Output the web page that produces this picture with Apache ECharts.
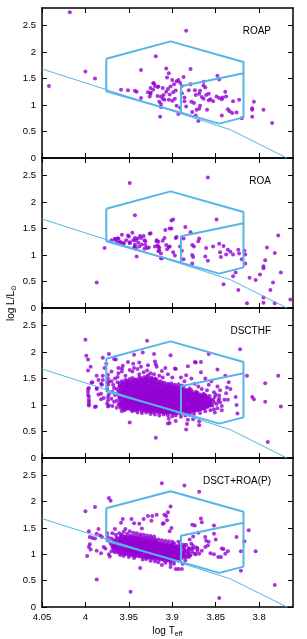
<!DOCTYPE html>
<html><head><meta charset="utf-8">
<script src="https://cdn.jsdelivr.net/npm/echarts@6/dist/echarts.min.js"></script>
<style>html,body{margin:0;padding:0;background:#fff}#c{width:307px;height:639px}</style>
</head><body><div id="c"></div>
<script>
// ---------- data ----------
const xTicks = [4.05, 4, 3.95, 3.9, 3.85, 3.8];
const yTicks = [0, 0.5, 1, 1.5, 2, 2.5];
const panelNames = ['ROAP', 'ROA', 'DSCTHF', 'DSCT+ROA(P)'];

// ZAMS line
const zamsT = [4.05, 3.976, 3.833, 3.768];
const zamsL = [1.68, 1.29, 0.534, 0.0];
// instability strip outline
const stripT = [3.976, 3.902, 3.818, 3.818, 3.846, 3.976, 3.976];
const stripL = [1.874, 2.20, 1.81, 0.767, 0.648, 1.258, 1.874];
// inner boundary
const innerT = [3.890, 3.890, 3.818];
const innerL = [0.855, 1.355, 1.60];

const roapData = [[4.018,2.75],[4.042,1.36],[4.000,1.63],[3.989,1.50],[3.884,2.40],[3.919,1.92],[3.936,1.66],[3.959,1.29],[3.951,1.28],[3.943,1.27],[3.941,1.25],[3.936,1.13],[3.914,0.78],[3.907,1.69],[3.904,1.60],[3.906,1.52],[3.900,1.47],[3.895,1.45],[3.893,1.47],[3.891,1.42],[3.898,1.39],[3.896,1.275],[3.899,1.24],[3.889,1.36],[3.887,1.53],[3.879,1.68],[3.889,1.22],[3.886,1.14],[3.886,1.07],[3.895,0.985],[3.891,0.95],[3.893,0.83],[3.922,1.41],[3.920,1.36],[3.917,1.34],[3.925,1.32],[3.922,1.29],[3.928,1.24],[3.925,1.21],[3.926,1.16],[3.917,1.17],[3.913,1.16],[3.911,1.12],[3.909,1.10],[3.910,1.19],[3.911,1.32],[3.915,1.06],[3.913,1.02],[3.913,0.96],[3.904,1.10],[3.900,1.08],[3.881,1.28],[3.879,1.39],[3.874,1.28],[3.873,1.19],[3.869,1.21],[3.868,1.27],[3.864,1.37],[3.864,1.44],[3.862,1.33],[3.866,1.15],[3.864,1.12],[3.861,1.19],[3.858,1.21],[3.858,1.09],[3.856,1.11],[3.860,0.91],[3.868,0.985],[3.869,0.93],[3.875,1.04],[3.877,0.87],[3.873,0.80],[3.870,0.70],[3.872,0.91],[3.884,0.97],[3.878,1.06],[3.853,1.07],[3.848,1.55],[3.846,1.48],[3.849,1.16],[3.846,1.13],[3.843,1.11],[3.842,1.14],[3.839,1.25],[3.838,1.16],[3.836,0.92],[3.834,0.88],[3.831,0.85],[3.830,1.07],[3.826,0.86],[3.823,1.10],[3.820,0.75],[3.843,0.80],[3.808,0.91],[3.808,0.94],[3.806,1.06],[3.808,0.78],[3.795,0.91],[3.785,0.66],[3.921,1.41],[3.916,1.35],[3.925,1.23],[3.907,1.25],[3.905,1.30],[3.902,1.35],[3.903,1.20],[3.897,1.12]];

const roaData = [[3.949,2.36],[3.859,2.46],[3.987,0.48],[3.978,1.13],[3.943,1.75],[3.970,1.28],[3.966,1.30],[3.964,1.25],[3.963,1.31],[3.958,1.38],[3.960,1.25],[3.956,1.22],[3.953,1.28],[3.950,1.35],[3.949,1.22],[3.946,1.42],[3.945,1.28],[3.943,1.20],[3.944,1.14],[3.942,1.28],[3.940,1.31],[3.939,1.23],[3.937,1.36],[3.938,1.16],[3.941,0.97],[3.935,1.20],[3.933,1.36],[3.932,1.28],[3.929,1.13],[3.932,1.12],[3.925,1.41],[3.918,1.28],[3.916,1.25],[3.920,1.16],[3.916,1.15],[3.915,1.09],[3.913,1.03],[3.912,0.94],[3.911,1.27],[3.908,1.47],[3.906,1.11],[3.903,1.16],[3.901,1.65],[3.899,1.67],[3.901,1.50],[3.899,1.05],[3.897,0.99],[3.896,1.32],[3.895,1.34],[3.891,1.16],[3.889,1.08],[3.887,1.31],[3.887,0.92],[3.885,1.53],[3.879,1.43],[3.877,1.19],[3.875,1.16],[3.877,1.00],[3.876,0.96],[3.877,0.84],[3.870,1.26],[3.869,1.31],[3.862,0.97],[3.859,0.89],[3.861,1.13],[3.849,1.67],[3.853,1.16],[3.846,1.21],[3.845,1.05],[3.844,0.96],[3.841,1.17],[3.838,1.01],[3.836,1.10],[3.833,1.06],[3.830,1.01],[3.824,1.10],[3.823,1.03],[3.817,1.08],[3.816,1.01],[3.820,0.92],[3.816,0.84],[3.841,0.45],[3.830,0.60],[3.827,0.67],[3.824,0.34],[3.814,0.09],[3.811,0.57],[3.804,0.53],[3.799,0.63],[3.795,0.75],[3.795,0.79],[3.793,0.90],[3.795,0.20],[3.795,0.10],[3.791,1.14],[3.787,0.34],[3.784,0.48],[3.782,1.04],[3.778,1.37],[3.775,0.67],[3.782,0.09],[3.764,0.16],[3.966,1.30],[3.962,1.31],[3.962,1.23],[3.959,1.22],[3.956,1.22],[3.951,1.37],[3.949,1.24],[3.943,1.32],[3.943,1.16],[3.942,1.12],[3.936,1.32],[3.931,1.19],[3.931,1.26],[3.926,1.40],[3.927,1.14],[3.918,1.26],[3.917,1.18],[3.915,1.14],[3.916,1.07],[3.913,0.94],[3.909,1.32],[3.904,1.15],[3.903,1.50],[3.907,1.19]];

const dscthfSparse = [[4.000,2.23],[3.999,1.93],[3.997,1.86],[3.994,1.72],[3.997,1.65],[3.993,1.42],[3.997,1.30],[3.997,1.25],[3.997,1.19],[3.996,1.16],[3.996,1.06],[3.996,1.02],[3.989,0.96],[3.987,1.30],[3.985,1.20],[3.981,1.38],[3.980,1.89],[3.980,1.55],[3.982,1.11],[3.975,1.42],[3.975,1.30],[3.974,1.15],[3.975,1.03],[3.974,0.97],[3.973,1.96],[3.967,1.87],[3.965,1.86],[3.963,1.53],[3.958,1.69],[3.951,1.81],[3.944,1.95],[3.934,1.99],[3.929,2.21],[3.921,1.96],[3.919,1.77],[3.918,1.72],[3.949,0.67],[3.919,0.38],[3.905,0.65],[3.902,1.94],[3.897,1.69],[3.884,0.54],[3.883,0.64],[3.874,1.81],[3.867,1.81],[3.858,1.96],[3.869,0.69],[3.869,0.62],[3.848,1.67],[3.822,2.05],[3.814,1.55],[3.808,1.15],[3.806,1.11],[3.793,1.41],[3.793,1.06],[3.778,1.55],[3.775,0.97],[3.790,0.30],[3.833,1.30],[3.835,1.43],[3.837,1.33],[3.827,1.15],[3.826,1.00],[3.825,0.84],[3.836,1.10],[3.839,1.55],
[3.974,1.57],[3.974,1.50],[3.973,1.44],[3.974,1.38],[3.973,1.20],[3.974,1.09],[3.973,0.99],[3.970,1.45],[3.966,1.50],[3.962,1.60],[3.958,1.63],[3.954,1.55],[3.962,1.70],[3.957,1.74],[3.970,1.63],[3.978,1.70],[3.976,1.78],[3.985,1.47],[3.980,1.47],[3.982,1.40],[3.987,1.32],[3.992,1.43],[3.987,1.55],[3.982,1.21],[3.979,1.13],[3.988,0.97],[3.996,1.32],[3.996,1.10],[3.996,0.99],
[3.949,1.66],[3.946,1.63],[3.944,1.70],[3.940,1.68],[3.936,1.72],[3.938,1.58],[3.933,1.62],[3.929,1.65],[3.925,1.60],[3.921,1.58],[3.915,1.55],[3.911,1.52],[3.928,1.75],[3.938,1.80],[3.945,1.78],[3.920,1.82],[3.912,1.64],[3.905,1.58],[3.900,1.52],[3.908,1.70],[3.896,1.68],[3.890,1.52],[3.886,1.45],[3.884,1.56],[3.882,1.73],[3.878,1.50],[3.874,1.40],[3.873,1.80],[3.870,1.35],[3.866,1.30],[3.860,1.28],[3.858,1.38],[3.852,1.24],[3.862,1.50],[3.867,1.62],[3.855,1.45],
[3.946,0.88],[3.940,0.86],[3.935,0.85],[3.930,0.86],[3.925,0.83],[3.920,0.82],[3.915,0.80],[3.910,0.82],[3.905,0.80],[3.900,0.79],[3.896,0.80],[3.904,0.74],[3.903,0.66],[3.890,0.78],[3.885,0.80],[3.880,0.82],[3.875,0.83],[3.868,0.85],[3.862,0.88],[3.882,0.72],[3.876,0.73],[3.896,0.70],[3.955,0.90],[3.958,0.88],
[3.850,1.20],[3.846,1.18],[3.845,1.05],[3.843,0.98],[3.848,0.94],[3.852,0.92],[3.840,1.10],[3.838,1.22],[3.845,1.28],[3.848,1.35],[3.856,0.90],[3.843,0.90],[3.851,0.86]];

const dscthfCore = [[3.969,0.98],[3.967,1.06],[3.970,1.12],[3.966,1.19],[3.969,1.25],[3.967,1.32],[3.968,1.38],
[3.964,0.95],[3.962,1.01],[3.964,1.08],[3.961,1.14],[3.963,1.20],[3.962,1.26],[3.964,1.30],[3.961,1.36],[3.963,1.43],
[3.959,0.94],[3.957,0.99],[3.958,1.04],[3.956,1.09],[3.959,1.14],[3.957,1.19],[3.958,1.23],[3.956,1.28],[3.959,1.33],[3.957,1.38],[3.958,1.45],
[3.955,0.92],[3.953,0.97],[3.954,1.02],[3.952,1.06],[3.955,1.10],[3.953,1.15],[3.954,1.19],[3.952,1.23],[3.955,1.27],[3.953,1.32],[3.954,1.36],[3.952,1.41],[3.954,1.47],
[3.951,0.93],[3.949,0.98],[3.950,1.01],[3.948,1.05],[3.951,1.09],[3.949,1.13],[3.950,1.17],[3.948,1.21],[3.951,1.25],[3.949,1.29],[3.950,1.33],[3.948,1.38],[3.951,1.43],[3.949,1.49],
[3.947,0.91],[3.945,0.95],[3.946,0.99],[3.944,1.03],[3.947,1.07],[3.945,1.11],[3.946,1.15],[3.944,1.19],[3.947,1.23],[3.945,1.27],[3.946,1.31],[3.944,1.35],[3.947,1.40],[3.945,1.45],[3.946,1.51],
[3.943,0.90],[3.941,0.94],[3.942,0.98],[3.940,1.02],[3.943,1.06],[3.941,1.10],[3.942,1.14],[3.940,1.18],[3.943,1.22],[3.941,1.26],[3.942,1.30],[3.940,1.34],[3.943,1.38],[3.941,1.43],[3.942,1.48],
[3.939,0.92],[3.937,0.96],[3.938,1.00],[3.936,1.04],[3.939,1.08],[3.937,1.12],[3.938,1.16],[3.936,1.20],[3.939,1.24],[3.937,1.28],[3.938,1.32],[3.936,1.36],[3.939,1.41],[3.937,1.46],[3.938,1.52],
[3.935,0.89],[3.933,0.93],[3.934,0.97],[3.932,1.01],[3.935,1.05],[3.933,1.09],[3.934,1.13],[3.932,1.17],[3.935,1.21],[3.933,1.25],[3.934,1.29],[3.932,1.33],[3.935,1.37],[3.933,1.42],[3.934,1.47],[3.932,1.53],
[3.931,0.90],[3.929,0.94],[3.930,0.98],[3.928,1.02],[3.931,1.06],[3.929,1.10],[3.930,1.14],[3.928,1.18],[3.931,1.22],[3.929,1.26],[3.930,1.30],[3.928,1.34],[3.931,1.39],[3.929,1.44],[3.930,1.50],[3.928,1.56],
[3.927,0.88],[3.925,0.92],[3.926,0.96],[3.924,1.00],[3.927,1.04],[3.925,1.08],[3.926,1.12],[3.924,1.16],[3.927,1.20],[3.925,1.24],[3.926,1.28],[3.924,1.32],[3.927,1.36],[3.925,1.41],[3.926,1.46],[3.924,1.52],
[3.923,0.87],[3.921,0.91],[3.922,0.95],[3.920,0.99],[3.923,1.03],[3.921,1.07],[3.922,1.11],[3.920,1.15],[3.923,1.19],[3.921,1.23],[3.922,1.27],[3.920,1.31],[3.923,1.35],[3.921,1.40],[3.922,1.45],[3.920,1.50],
[3.919,0.88],[3.917,0.92],[3.918,0.96],[3.916,1.00],[3.919,1.04],[3.917,1.08],[3.918,1.12],[3.916,1.16],[3.919,1.20],[3.917,1.24],[3.918,1.28],[3.916,1.32],[3.919,1.37],[3.917,1.42],[3.918,1.48],
[3.915,0.86],[3.913,0.90],[3.914,0.94],[3.912,0.98],[3.915,1.02],[3.913,1.06],[3.914,1.10],[3.912,1.14],[3.915,1.18],[3.913,1.22],[3.914,1.26],[3.912,1.30],[3.915,1.34],[3.913,1.39],[3.914,1.45],
[3.911,0.87],[3.909,0.91],[3.910,0.95],[3.908,0.99],[3.911,1.03],[3.909,1.07],[3.910,1.11],[3.908,1.15],[3.911,1.19],[3.909,1.23],[3.910,1.27],[3.908,1.31],[3.911,1.36],[3.909,1.42],
[3.907,0.85],[3.905,0.89],[3.906,0.93],[3.904,0.97],[3.907,1.01],[3.905,1.05],[3.906,1.09],[3.904,1.13],[3.907,1.17],[3.905,1.21],[3.906,1.25],[3.904,1.29],[3.907,1.34],[3.905,1.40],
[3.903,0.86],[3.901,0.90],[3.902,0.94],[3.900,0.98],[3.903,1.02],[3.901,1.06],[3.902,1.10],[3.900,1.14],[3.903,1.18],[3.901,1.22],[3.902,1.26],[3.900,1.30],[3.903,1.35],[3.901,1.41],
[3.899,0.84],[3.897,0.88],[3.898,0.92],[3.896,0.96],[3.899,1.00],[3.897,1.04],[3.898,1.08],[3.896,1.12],[3.899,1.16],[3.897,1.20],[3.898,1.24],[3.896,1.28],[3.899,1.33],[3.897,1.38],
[3.895,0.85],[3.893,0.89],[3.894,0.93],[3.892,0.97],[3.895,1.01],[3.893,1.05],[3.894,1.09],[3.892,1.13],[3.895,1.17],[3.893,1.21],[3.894,1.25],[3.892,1.29],[3.895,1.34],[3.893,1.39],
[3.891,0.84],[3.889,0.88],[3.890,0.92],[3.888,0.96],[3.891,1.00],[3.889,1.04],[3.890,1.08],[3.888,1.12],[3.891,1.16],[3.889,1.20],[3.890,1.24],[3.888,1.28],[3.891,1.32],[3.889,1.37],
[3.887,0.85],[3.885,0.89],[3.886,0.93],[3.884,0.97],[3.887,1.01],[3.885,1.05],[3.886,1.09],[3.884,1.13],[3.887,1.17],[3.885,1.21],[3.886,1.25],[3.884,1.29],[3.887,1.34],
[3.883,0.86],[3.881,0.90],[3.882,0.94],[3.880,0.98],[3.883,1.02],[3.881,1.06],[3.882,1.10],[3.880,1.14],[3.883,1.18],[3.881,1.22],[3.882,1.26],[3.880,1.31],
[3.879,0.87],[3.877,0.91],[3.878,0.95],[3.876,0.99],[3.879,1.03],[3.877,1.07],[3.878,1.11],[3.876,1.15],[3.879,1.19],[3.877,1.23],[3.878,1.28],
[3.875,0.88],[3.873,0.92],[3.874,0.96],[3.872,1.00],[3.875,1.04],[3.873,1.08],[3.874,1.12],[3.872,1.16],[3.875,1.20],[3.873,1.25],
[3.871,0.90],[3.869,0.94],[3.870,0.98],[3.868,1.02],[3.871,1.06],[3.869,1.10],[3.870,1.14],[3.868,1.18],[3.871,1.23],
[3.867,0.92],[3.865,0.96],[3.866,1.00],[3.864,1.04],[3.867,1.08],[3.865,1.12],[3.866,1.16],[3.864,1.21],
[3.863,0.94],[3.861,0.98],[3.862,1.02],[3.860,1.06],[3.863,1.10],[3.861,1.14],[3.862,1.19],
[3.859,0.97],[3.857,1.01],[3.858,1.05],[3.856,1.09],[3.859,1.13],[3.857,1.17],
[3.854,0.99],[3.852,1.05],[3.853,1.10],[3.851,1.15],[3.849,1.02],[3.847,1.08],[3.846,1.12]];

// extra stars between the columns above: [log Teff, [log L values]]
const dscthfFill = [
[3.960,[0.97,1.01,1.05,1.09,1.13,1.17,1.21,1.25,1.29,1.33,1.37,1.41]],
[3.956,[0.95,0.99,1.03,1.07,1.11,1.15,1.19,1.23,1.27,1.31,1.35,1.39,1.43]],
[3.952,[0.94,0.98,1.02,1.06,1.10,1.14,1.18,1.22,1.26,1.30,1.34,1.38,1.42,1.46]],
[3.948,[0.93,0.97,1.01,1.05,1.09,1.13,1.17,1.21,1.25,1.29,1.33,1.37,1.41,1.45]],
[3.944,[0.92,0.96,1.00,1.04,1.08,1.12,1.16,1.20,1.24,1.28,1.32,1.36,1.40,1.44,1.48]],
[3.940,[0.91,0.95,0.99,1.03,1.07,1.11,1.15,1.19,1.23,1.27,1.31,1.35,1.39,1.43,1.47]],
[3.936,[0.91,0.95,0.99,1.03,1.07,1.11,1.15,1.19,1.23,1.27,1.31,1.35,1.39,1.43,1.47,1.51]],
[3.932,[0.90,0.94,0.98,1.02,1.06,1.10,1.14,1.18,1.22,1.26,1.30,1.34,1.38,1.42,1.46,1.50]],
[3.928,[0.89,0.93,0.97,1.01,1.05,1.09,1.13,1.17,1.21,1.25,1.29,1.33,1.37,1.41,1.45,1.49,1.53]],
[3.924,[0.89,0.93,0.97,1.01,1.05,1.09,1.13,1.17,1.21,1.25,1.29,1.33,1.37,1.41,1.45,1.49]],
[3.920,[0.88,0.92,0.96,1.00,1.04,1.08,1.12,1.16,1.20,1.24,1.28,1.32,1.36,1.40,1.44,1.48]],
[3.916,[0.87,0.91,0.95,0.99,1.03,1.07,1.11,1.15,1.19,1.23,1.27,1.31,1.35,1.39,1.43]],
[3.912,[0.87,0.91,0.95,0.99,1.03,1.07,1.11,1.15,1.19,1.23,1.27,1.31,1.35,1.39,1.43]],
[3.908,[0.86,0.90,0.94,0.98,1.02,1.06,1.10,1.14,1.18,1.22,1.26,1.30,1.34,1.38]],
[3.904,[0.86,0.90,0.94,0.98,1.02,1.06,1.10,1.14,1.18,1.22,1.26,1.30,1.34,1.38]],
[3.900,[0.85,0.89,0.93,0.97,1.01,1.05,1.09,1.13,1.17,1.21,1.25,1.29,1.33,1.37]],
[3.896,[0.85,0.89,0.93,0.97,1.01,1.05,1.09,1.13,1.17,1.21,1.25,1.29,1.33]],
[3.892,[0.86,0.90,0.94,0.98,1.02,1.06,1.10,1.14,1.18,1.22,1.26,1.30,1.34]],
[3.888,[0.86,0.90,0.94,0.98,1.02,1.06,1.10,1.14,1.18,1.22,1.26,1.30]],
[3.884,[0.87,0.91,0.95,0.99,1.03,1.07,1.11,1.15,1.19,1.23,1.27]],
[3.880,[0.88,0.92,0.96,1.00,1.04,1.08,1.12,1.16,1.20,1.24,1.28]],
[3.876,[0.89,0.93,0.97,1.01,1.05,1.09,1.13,1.17,1.21]],
[3.872,[0.90,0.94,0.98,1.02,1.06,1.10,1.14,1.18,1.22]],
[3.868,[0.92,0.96,1.00,1.04,1.08,1.12,1.16,1.20]],
[3.864,[0.94,0.98,1.02,1.06,1.10,1.14,1.18]],
[3.860,[0.96,1.00,1.04,1.08,1.12,1.16]],
[3.856,[0.99,1.03,1.07,1.11]]];

const dsctRoaPSparse = [[4.000,1.82],[3.989,1.90],[3.973,2.07],[3.971,2.02],[3.912,2.35],[3.886,2.31],[3.869,2.19],[3.902,1.91],[3.905,1.80],[3.907,1.73],[3.911,1.58],[3.957,1.67],[3.947,1.67],[3.959,1.60],[3.954,1.48],[3.944,1.59],[3.938,1.58],[3.933,1.67],[3.928,1.73],[3.923,1.73],[3.918,1.75],[3.909,1.75],[3.906,1.65],[3.910,1.59],[3.924,1.64],[3.935,1.49],[3.966,1.48],[3.969,1.40],[3.961,1.40],[3.903,1.44],[3.901,1.50],[3.867,1.68],[3.866,1.61],[3.874,1.55],[3.852,1.55],[3.852,1.39],[3.877,1.56],
[3.996,1.44],[3.995,1.33],[3.992,1.31],[3.989,1.30],[3.985,1.48],[3.987,1.39],[3.983,1.36],[3.981,1.33],[3.995,1.19],[3.996,1.14],[3.994,1.09],[3.998,0.97],[3.987,1.07],[3.979,1.14],[3.977,1.11],[3.982,1.02],[3.973,1.00],[3.972,0.96],[3.971,1.20],[3.969,1.14],[3.966,1.17],[3.974,1.26],[3.974,1.33],[3.975,1.40],
[3.862,1.33],[3.861,1.26],[3.862,1.14],[3.859,1.17],[3.856,1.02],[3.852,1.00],[3.847,0.95],[3.843,1.11],[3.841,1.10],[3.844,0.95],[3.839,1.01],[3.871,1.11],[3.869,1.01],[3.866,1.07],[3.878,1.20],[3.876,1.11],[3.874,1.01],[3.881,0.95],[3.885,0.89],[3.888,0.82],[3.896,0.72],[3.893,0.72],[3.889,0.72],[3.902,0.76],[3.902,0.82],
[3.826,1.33],[3.821,1.06],[3.821,0.69],[3.812,1.46],[3.817,1.25],[3.804,1.06],[3.782,0.42],[3.846,0.17],[3.987,0.52],[3.948,0.29],[3.937,0.74],[3.876,1.34],[3.870,1.41],[3.880,1.28],[3.858,1.24],[3.850,1.28],[3.836,1.06],
[3.944,0.93],[3.934,0.90],[3.925,0.88],[3.916,0.85],[3.908,0.84],[3.898,0.82],[3.912,0.80],[3.920,0.87],[3.930,0.91],[3.950,0.95],[3.956,0.97],[3.960,0.99]];

const dsctRoaPCore = [[3.970,1.06],[3.968,1.12],[3.969,1.18],[3.967,1.24],[3.970,1.30],
[3.966,1.04],[3.964,1.10],[3.965,1.15],[3.963,1.21],[3.966,1.26],[3.964,1.32],[3.965,1.37],
[3.962,1.03],[3.960,1.08],[3.961,1.12],[3.959,1.17],[3.962,1.21],[3.960,1.26],[3.961,1.30],[3.959,1.35],
[3.958,1.01],[3.956,1.06],[3.957,1.10],[3.955,1.14],[3.958,1.18],[3.956,1.22],[3.957,1.27],[3.955,1.31],[3.958,1.37],[3.956,1.43],
[3.954,1.00],[3.952,1.04],[3.953,1.08],[3.951,1.12],[3.954,1.16],[3.952,1.20],[3.953,1.24],[3.951,1.28],[3.954,1.33],[3.952,1.39],
[3.950,0.99],[3.948,1.03],[3.949,1.07],[3.947,1.11],[3.950,1.15],[3.948,1.19],[3.949,1.23],[3.947,1.27],[3.950,1.31],[3.948,1.36],[3.949,1.44],
[3.946,0.98],[3.944,1.02],[3.945,1.06],[3.943,1.10],[3.946,1.14],[3.944,1.18],[3.945,1.22],[3.943,1.26],[3.946,1.30],[3.944,1.35],[3.945,1.41],
[3.942,0.97],[3.940,1.01],[3.941,1.05],[3.939,1.09],[3.942,1.13],[3.940,1.17],[3.941,1.21],[3.939,1.25],[3.942,1.29],[3.940,1.34],[3.941,1.40],
[3.938,0.96],[3.936,1.00],[3.937,1.04],[3.935,1.08],[3.938,1.12],[3.936,1.16],[3.937,1.20],[3.935,1.24],[3.938,1.28],[3.936,1.33],[3.937,1.38],
[3.934,0.95],[3.932,0.99],[3.933,1.03],[3.931,1.07],[3.934,1.11],[3.932,1.15],[3.933,1.19],[3.931,1.23],[3.934,1.27],[3.932,1.32],[3.933,1.37],
[3.930,0.94],[3.928,0.98],[3.929,1.02],[3.927,1.06],[3.930,1.10],[3.928,1.14],[3.929,1.18],[3.927,1.22],[3.930,1.26],[3.928,1.31],[3.929,1.36],
[3.926,0.93],[3.924,0.97],[3.925,1.01],[3.923,1.05],[3.926,1.09],[3.924,1.13],[3.925,1.17],[3.923,1.21],[3.926,1.25],[3.924,1.30],[3.925,1.35],
[3.922,0.92],[3.920,0.96],[3.921,1.00],[3.919,1.04],[3.922,1.08],[3.920,1.12],[3.921,1.16],[3.919,1.20],[3.922,1.24],[3.920,1.29],[3.921,1.34],
[3.918,0.91],[3.916,0.95],[3.917,0.99],[3.915,1.03],[3.918,1.07],[3.916,1.11],[3.917,1.15],[3.915,1.19],[3.918,1.23],[3.916,1.28],
[3.914,0.90],[3.912,0.94],[3.913,0.98],[3.911,1.02],[3.914,1.06],[3.912,1.10],[3.913,1.14],[3.911,1.18],[3.914,1.22],[3.912,1.27],
[3.910,0.89],[3.908,0.93],[3.909,0.97],[3.907,1.01],[3.910,1.05],[3.908,1.09],[3.909,1.13],[3.907,1.17],[3.910,1.21],[3.908,1.26],
[3.906,0.88],[3.904,0.92],[3.905,0.96],[3.903,1.00],[3.906,1.04],[3.904,1.08],[3.905,1.12],[3.903,1.16],[3.906,1.20],[3.904,1.25],
[3.902,0.87],[3.900,0.91],[3.901,0.95],[3.899,0.99],[3.902,1.03],[3.900,1.07],[3.901,1.11],[3.899,1.15],[3.902,1.19],[3.900,1.24],
[3.898,0.88],[3.896,0.92],[3.897,0.96],[3.895,1.00],[3.898,1.04],[3.896,1.08],[3.897,1.12],[3.895,1.16],[3.898,1.21],
[3.894,0.89],[3.892,0.93],[3.893,0.97],[3.891,1.01],[3.894,1.05],[3.892,1.09],[3.893,1.13],[3.891,1.18],[3.893,1.24],
[3.889,0.93],[3.887,0.98],[3.888,1.03],[3.886,1.08],[3.889,1.13],[3.887,1.18],
[3.884,0.95],[3.882,1.01],[3.883,1.06],[3.881,1.12],[3.884,1.18],
[3.879,0.98],[3.877,1.04],[3.878,1.10],[3.876,1.16],
[3.873,1.00],[3.871,1.07],[3.872,1.13]];

const dsctRoaPFill = [
[3.967,[1.08,1.14,1.20,1.27]],
[3.963,[1.06,1.10,1.14,1.18,1.23,1.28]],
[3.959,[1.04,1.08,1.12,1.16,1.20,1.24,1.28,1.33]],
[3.955,[1.02,1.06,1.10,1.14,1.18,1.22,1.26,1.30,1.34]],
[3.951,[1.01,1.05,1.09,1.13,1.17,1.21,1.25,1.29,1.34]],
[3.947,[1.00,1.04,1.08,1.12,1.16,1.20,1.24,1.28,1.33]],
[3.943,[0.99,1.03,1.07,1.11,1.15,1.19,1.23,1.27,1.32]],
[3.939,[0.98,1.02,1.06,1.10,1.14,1.18,1.22,1.26,1.31]],
[3.935,[0.97,1.01,1.05,1.09,1.13,1.17,1.21,1.25,1.30]],
[3.931,[0.96,1.00,1.04,1.08,1.12,1.16,1.20,1.24,1.29]],
[3.927,[0.95,0.99,1.03,1.07,1.11,1.15,1.19,1.23,1.28]],
[3.923,[0.94,0.98,1.02,1.06,1.10,1.14,1.18,1.22,1.27]],
[3.919,[0.93,0.97,1.01,1.05,1.09,1.13,1.17,1.21,1.26]],
[3.915,[0.92,0.96,1.00,1.04,1.08,1.12,1.16,1.20]],
[3.911,[0.91,0.95,0.99,1.03,1.07,1.11,1.15,1.19]],
[3.907,[0.90,0.94,0.98,1.02,1.06,1.10,1.14,1.18]],
[3.903,[0.89,0.93,0.97,1.01,1.05,1.09,1.13,1.17]],
[3.899,[0.89,0.93,0.97,1.01,1.05,1.09,1.13,1.18]],
[3.895,[0.90,0.94,0.98,1.02,1.06,1.10,1.14]],
[3.891,[0.91,0.96,1.01,1.06,1.11,1.16]],
[3.886,[0.95,1.00,1.05,1.10,1.15]],
[3.881,[0.98,1.04,1.09]]];

// ---------- chart ----------
const FONT = 'Liberation Sans, Arial, sans-serif';
const BLUE = '#56B4E9';
const PURPLE = '#9400D3';
const tops = [8, 158, 308, 458];
const H = 150;
const pairs = (a, b) => a.map((v, i) => [v, b[i]]);
const expand = cols => cols.reduce((acc, c) => acc.concat(c[1].map(l => [c[0], l])), []);
const panelData = [
  roapData,
  roaData,
  dscthfSparse.concat(dscthfCore, expand(dscthfFill)),
  dsctRoaPSparse.concat(dsctRoaPCore, expand(dsctRoaPFill))
];

const grids = [], xAxes = [], yAxes = [], series = [], graphics = [];
for (let i = 0; i < 4; i++) {
  grids.push({ left: 42, width: 251, top: tops[i], height: H, show: false });
  const baseX = {
    type: 'value', gridIndex: i, min: 3.761, max: 4.05, inverse: true,
    axisLine: { show: true, onZero: false, lineStyle: { color: '#000', width: 1.5 } },
    axisTick: { show: true, inside: true, length: 5, customValues: xTicks, lineStyle: { color: '#000', width: 1 } },
    splitLine: { show: false }
  };
  xAxes.push(Object.assign({}, baseX, {
    position: 'bottom',
    axisLabel: { show: i === 3, customValues: xTicks, color: '#000', fontSize: 9.5, fontFamily: FONT, margin: 5 },
    name: i === 3 ? '{a|log T}{b|eff}' : '', nameLocation: 'middle', nameGap: 18,
    nameTextStyle: { color: '#000', fontFamily: FONT, rich: {
      a: { fontSize: 10, fontFamily: FONT, color: '#000' },
      b: { fontSize: 7, fontFamily: FONT, color: '#000', padding: [6, 0, 0, 0] } } }
  }));
  xAxes.push(Object.assign({}, baseX, { position: 'top', axisLabel: { show: false } }));
  const baseY = {
    type: 'value', gridIndex: i, min: 0, max: 2.83,
    axisLine: { show: true, onZero: false, lineStyle: { color: '#000', width: 1.5 } },
    axisTick: { show: true, inside: true, length: 5, customValues: yTicks, lineStyle: { color: '#000', width: 1 } },
    splitLine: { show: false }
  };
  yAxes.push(Object.assign({}, baseY, {
    position: 'left',
    axisLabel: { show: true, customValues: yTicks, color: '#000', fontSize: 9.5, fontFamily: FONT, margin: 6 }
  }));
  yAxes.push(Object.assign({}, baseY, { position: 'right', axisLabel: { show: false } }));

  series.push({ type: 'scatter', xAxisIndex: 2 * i, yAxisIndex: 2 * i, data: panelData[i],
    symbol: 'circle', symbolSize: 4, itemStyle: { color: PURPLE }, z: 2, silent: true, large: false });
  series.push({ type: 'line', xAxisIndex: 2 * i, yAxisIndex: 2 * i, data: pairs(zamsT, zamsL),
    showSymbol: false, lineStyle: { color: BLUE, width: 1 }, z: 3, silent: true });
  series.push({ type: 'line', xAxisIndex: 2 * i, yAxisIndex: 2 * i, data: pairs(stripT, stripL),
    showSymbol: false, lineStyle: { color: BLUE, width: 2 }, z: 4, silent: true });
  series.push({ type: 'line', xAxisIndex: 2 * i, yAxisIndex: 2 * i, data: pairs(innerT, innerL),
    showSymbol: false, lineStyle: { color: BLUE, width: 2 }, z: 4, silent: true });

  graphics.push({ type: 'text', x: 271, y: tops[i] + 23, z: 10,
    style: { text: panelNames[i], fill: '#000', font: '10px ' + FONT, align: 'right', verticalAlign: 'middle' } });
}
graphics.push({ type: 'text', x: 11, y: 303, rotation: Math.PI / 2, z: 10,
  style: { text: '{a|log L/L}{b|\u2299}', align: 'center', verticalAlign: 'middle', fill: '#000',
    rich: { a: { fontSize: 10, fontFamily: FONT, fill: '#000' }, b: { fontSize: 7, fontFamily: FONT, fill: '#000', padding: [6, 0, 0, 0] } } } });

const chart = echarts.init(document.getElementById('c'), null, { renderer: 'canvas' });
chart.setOption({
  animation: false, backgroundColor: '#fff',
  grid: grids, xAxis: xAxes, yAxis: yAxes, series: series, graphic: graphics
});
</script>
</body></html>
